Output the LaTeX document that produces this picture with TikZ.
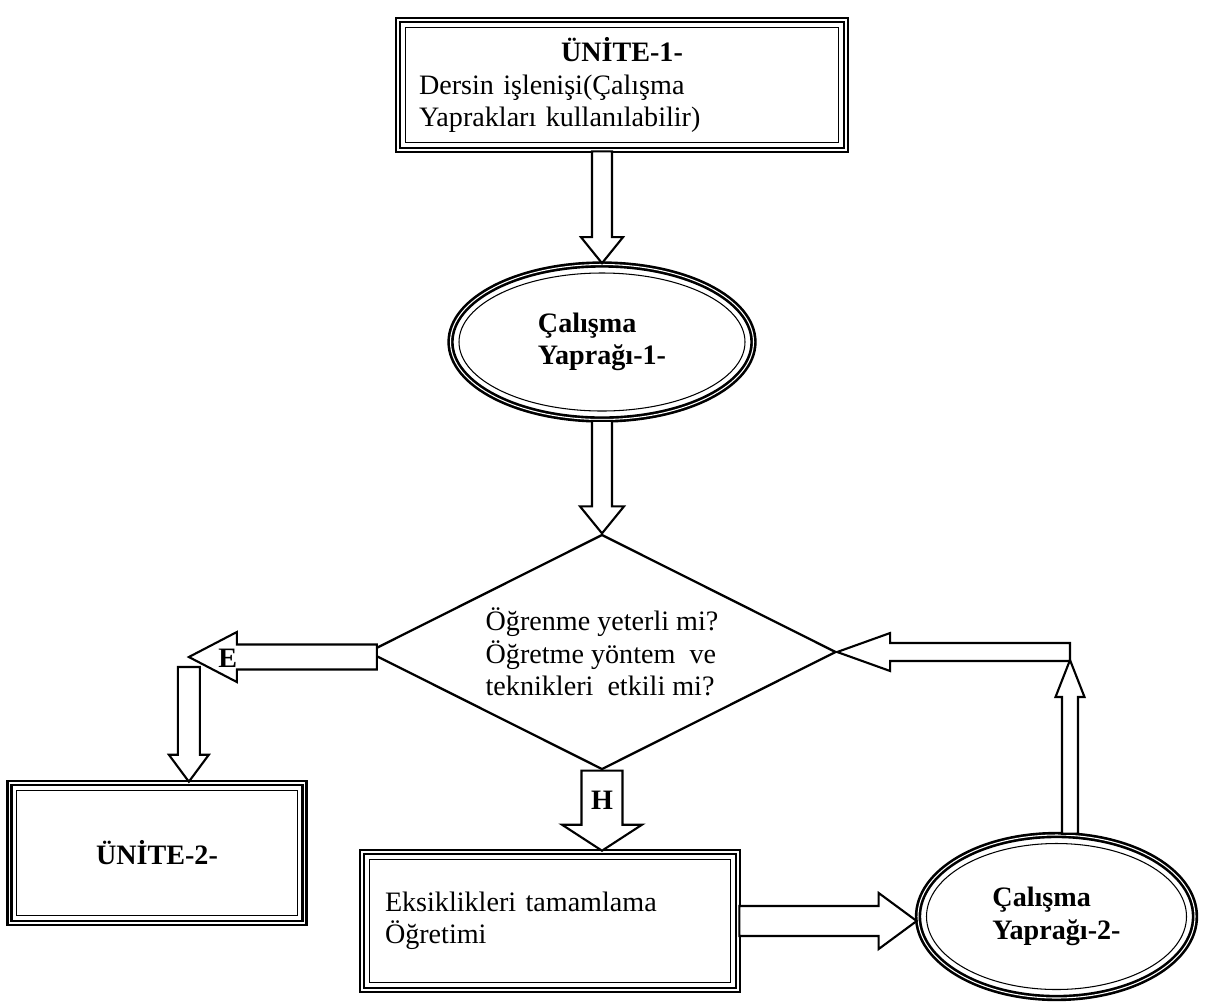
\documentclass[tikz,border=0pt]{standalone}
\usepackage{fontspec}
\setmainfont{Liberation Serif}
\usetikzlibrary{shapes.geometric,calc}

\newcommand{\diagfont}{\fontsize{16}{18.5}\selectfont}

\tikzset{
  boxframe/.style={draw, line width=1.5pt, double=white, double distance=0.6pt, fill=white, inner sep=0pt, font=\diagfont},
  ovalframe/.style={ellipse, draw, line width=1.5pt, double=white, double distance=0.6pt, fill=white, inner sep=0pt, align=left, font=\diagfont\bfseries},
  innerframe/.style={line width=0.6pt},
  decision/.style={diamond, draw, line width=1.3pt, inner sep=0pt, align=left, font=\diagfont},
  blockarr/.style={draw, fill=white, line width=1.2pt, line join=miter},
  lbl/.style={inner sep=0pt, font=\diagfont\bfseries},
}

% outlined block arrow: start, end, shaft half width, head half width, head length
\newcommand{\blockarrow}[5]{%
  \coordinate (ba-s) at (#1);
  \coordinate (ba-e) at (#2);
  \coordinate (ba-b) at ($(ba-e)!#5!(ba-s)$);
  \draw[blockarr] ($(ba-s)!#3!90:(ba-e)$) -- ($(ba-b)!#3!-90:(ba-s)$)
    -- ($(ba-b)!#4!-90:(ba-s)$) -- (ba-e) -- ($(ba-b)!#4!90:(ba-s)$)
    -- ($(ba-b)!#3!90:(ba-s)$) -- ($(ba-s)!#3!-90:(ba-e)$) -- cycle;
}

\begin{document}
\begin{tikzpicture}
\useasboundingbox (0,0) rectangle (24.22,-20.08);

% boxes
\node[boxframe, minimum width=8.96cm, minimum height=2.6cm, text width=8.12cm, align=left] (u1) at (12.44,-1.70)
  {\makebox[\hsize]{\textbf{ÜNİTE-1-}}\\Dersin işlenişi(Çalışma\\Yaprakları kullanılabilir)};
\node[ovalframe, minimum width=6.06cm, minimum height=3.10cm] (c1) at (12.04,-6.84) {Çalışma\\Yaprağı-1-};
\node[decision, minimum width=9.36cm, minimum height=4.70cm, shape aspect=1.99] (d) at (12.04,-13.04)
  {Öğrenme yeterli mi?\\Öğretme yöntem\ \ ve\\teknikleri\ \ etkili mi?};
\node[boxframe, minimum width=5.90cm, minimum height=2.80cm, font=\diagfont\bfseries] (u2) at (3.14,-17.06) {ÜNİTE-2-};
\node[boxframe, minimum width=7.52cm, minimum height=2.76cm, text width=6.6cm, align=left] (e1) at (11.00,-18.42)
  {Eksiklikleri tamamlama\\Öğretimi};
\node[ovalframe, minimum width=5.54cm, minimum height=3.26cm] (c2) at (21.13,-18.33) {Çalışma\\Yaprağı-2-};

% inner thin frames
\foreach \n in {u1,u2,e1}
  \draw[innerframe] ([shift={(0.17,-0.17)}]\n.north west) rectangle ([shift={(-0.17,0.17)}]\n.south east);
\draw[innerframe] (c1.center) ellipse [x radius=2.86cm, y radius=1.38cm];
\draw[innerframe] (c2.center) ellipse [x radius=2.60cm, y radius=1.46cm];

% arrows
\blockarrow{u1.south -| c1.north}{c1.north}{0.20cm}{0.42cm}{0.52cm}
\blockarrow{c1.south}{d.north}{0.20cm}{0.44cm}{0.54cm}

\coordinate (eTip) at ($(d.west)+(-3.56,-0.1)$);
\blockarrow{$(eTip)+(0,-0.2)$}{eTip |- u2.north}{0.22cm}{0.40cm}{0.54cm}
\blockarrow{$(d.west)+(0.2,-0.1)$}{eTip}{0.25cm}{0.50cm}{0.96cm}
\node[lbl] (lblE) at ($(d.west)+(-2.78,-0.12)$) {E};

\blockarrow{d.south}{d.south |- e1.north}{0.41cm}{0.80cm}{0.52cm}
\node[lbl] (lblH) at ($(d.south)+(0,-0.60)$) {H};

\blockarrow{e1.east}{e1.east -| c2.west}{0.30cm}{0.56cm}{0.76cm}

\coordinate (rLoop) at ($(c2.north |- d.east)+(0.27,0)$);
\blockarrow{$(c2.north)+(0.27,0)$}{$(rLoop)+(0,-0.16)$}{0.16cm}{0.29cm}{0.74cm}
\blockarrow{rLoop}{d.east}{0.18cm}{0.38cm}{1.06cm}

\end{tikzpicture}
\end{document}
